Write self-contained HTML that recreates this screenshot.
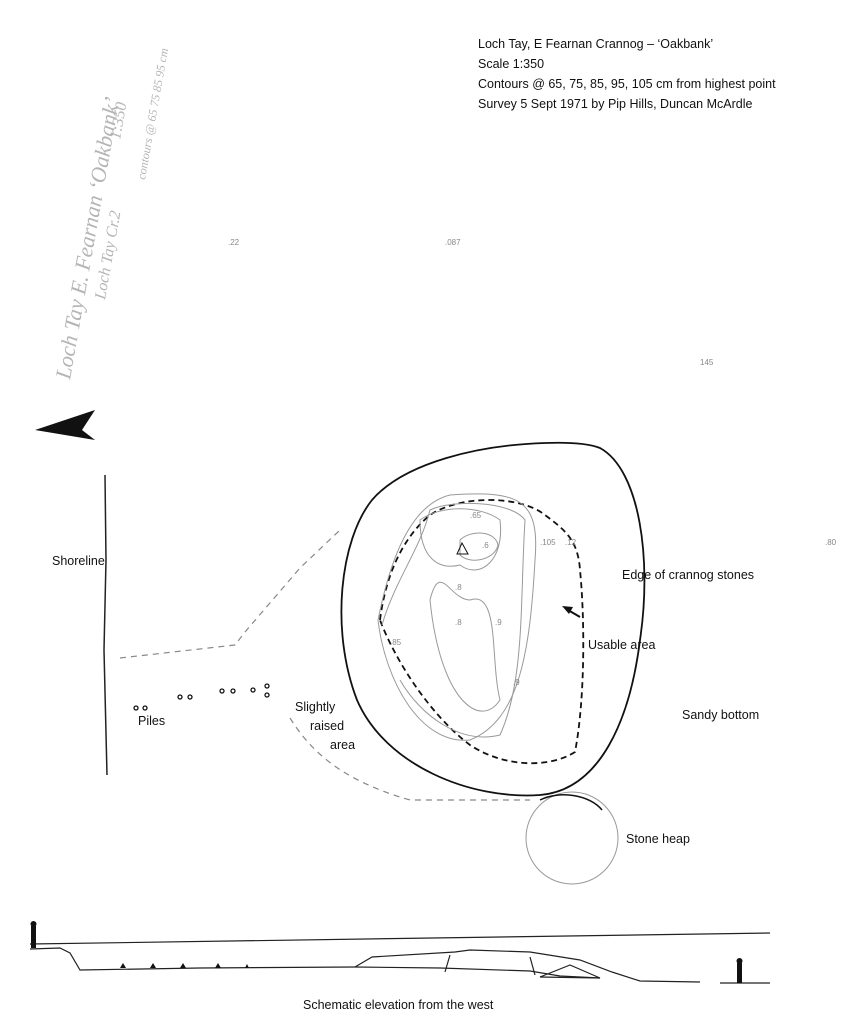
<!DOCTYPE html>
<html><head><meta charset="utf-8"><style>
html,body{margin:0;padding:0;background:#fff}
svg{display:block}
.t{font-family:"Liberation Sans",sans-serif;font-size:12.5px;fill:#111}
.h{font-family:"Liberation Sans",sans-serif;font-size:8px;fill:#888}
</style></head><body>
<svg width="850" height="1024" viewBox="0 0 850 1024" xmlns="http://www.w3.org/2000/svg">
<rect width="850" height="1024" fill="#fff"/>
<text class="t" x="478" y="48">Loch Tay, E Fearnan Crannog – ‘Oakbank’</text>
<text class="t" x="478" y="68">Scale 1:350</text>
<text class="t" x="478" y="88">Contours @ 65, 75, 85, 95, 105 cm from highest point</text>
<text class="t" x="478" y="108">Survey 5 Sept 1971 by Pip Hills, Duncan McArdle</text>
<g fill="#b5b5b5" font-family="Liberation Serif,serif" font-size="22" font-style="italic">
<text transform="translate(70,380) rotate(-80)">Loch Tay  E. Fearnan ‘Oakbank’</text>
<text transform="translate(105,300) rotate(-80)" font-size="16">Loch Tay Cr.2</text>
<text transform="translate(120,140) rotate(-80)" font-size="16">1:350</text>
<text transform="translate(145,180) rotate(-80)" font-size="12">contours @ 65 75 85 95 cm</text>
</g>
<polygon points="35,430 95,410 82,430 95,440" fill="#111"/>
<path d="M105,475 L106,560 L104,650 L107,775" stroke="#222" stroke-width="1.5" fill="none"/>
<text class="t" x="52" y="565">Shoreline</text>
<path d="M600,448 C640,470 652,560 640,640 C630,720 600,790 540,795 C470,800 385,765 357,700 C330,630 340,540 372,500 C405,462 480,445 545,443 C572,442 590,444 600,448 Z" stroke="#111" stroke-width="1.8" fill="none"/>
<path d="M380,620 C385,580 400,540 430,515 C460,495 520,495 545,515 C565,530 578,540 580,570 C585,620 585,700 575,752 C550,768 505,768 470,745 C430,715 395,660 380,620 Z" stroke="#111" stroke-width="1.8" stroke-dasharray="6,4" fill="none"/>
<g stroke="#999" stroke-width="1" fill="none">
<path d="M378,620 C390,560 410,505 450,495 C520,490 540,500 535,560 C530,650 520,720 470,740 C420,745 385,680 378,620 Z"/>
<path d="M382,625 C395,580 420,550 430,510 C450,500 510,500 525,520 C520,600 525,680 500,735 C460,745 420,715 400,680"/>
<path d="M420,520 C440,505 480,505 500,520 C505,560 480,580 460,565 C440,570 420,560 420,520 Z"/>
<path d="M460,540 C470,530 495,530 498,545 C495,560 470,565 460,555 Z"/>
<path d="M430,600 C440,560 450,600 470,600 C500,590 490,660 500,700 C480,730 440,700 430,600 Z"/>
</g>
<polygon points="462,543 457,554 468,554" stroke="#111" fill="none"/>
<circle cx="572" cy="838" r="46" stroke="#999" stroke-width="1" fill="none"/>
<path d="M540,800 C560,790 590,795 602,810" stroke="#111" stroke-width="1.5" fill="none"/>
<text class="t" x="626" y="843">Stone heap</text>
<path d="M120,658 L235,645 L245,632 L300,568 L340,530" stroke="#888" stroke-width="1.2" stroke-dasharray="6,5" fill="none"/>
<path d="M290,718 C310,750 340,780 410,800 L530,800" stroke="#888" stroke-width="1.2" stroke-dasharray="6,5" fill="none"/>
<text class="t" x="622" y="579">Edge of crannog stones</text>
<path d="M580,617 L568,610" stroke="#111" stroke-width="2"/>
<polygon points="562,606 573,607 569,614" fill="#111"/>
<text class="t" x="588" y="649">Usable area</text>
<text class="t" x="682" y="719">Sandy bottom</text>
<text class="t" x="295" y="711">Slightly</text>
<text class="t" x="310" y="730">raised</text>
<text class="t" x="330" y="749">area</text>
<text class="t" x="138" y="725">Piles</text>
<g fill="none" stroke="#111" stroke-width="1.3">
<circle cx="136" cy="708" r="2"/><circle cx="145" cy="708" r="2"/>
<circle cx="180" cy="697" r="2"/><circle cx="190" cy="697" r="2"/>
<circle cx="222" cy="691" r="2"/><circle cx="233" cy="691" r="2"/>
<circle cx="253" cy="690" r="2"/><circle cx="267" cy="686" r="2"/><circle cx="267" cy="695" r="2"/>
</g>
<g class="h"><text x="390" y="645">.85</text><text x="455" y="625">.8</text><text x="495" y="625">.9</text><text x="513" y="685">.9</text><text x="455" y="590">.8</text><text x="540" y="545">.105</text><text x="565" y="545">.12</text><text x="470" y="518">.65</text><text x="482" y="548">.6</text><text x="825" y="545">.80</text><text x="700" y="365">145</text><text x="228" y="245">.22</text><text x="445" y="245">.087</text></g>
<g stroke="#222" fill="none" stroke-width="1.2">
<path d="M30,944 L770,933"/>
<path d="M30,949 L60,948 L70,953 L80,970 L200,968 L355,967"/>
<path d="M355,967 L372,957 L455,952 L470,950 L530,952 L580,960 L612,972 L640,981 L700,982"/>
<path d="M355,967 L440,968 L530,971 L560,976 L600,978"/>
<path d="M450,955 L445,972"/>
<path d="M530,957 L535,975"/>
<path d="M540,977 L570,965 L600,978 Z"/>
<path d="M720,983 L770,983"/>
</g>
<g fill="#111"><rect x="31" y="926" width="5" height="22"/><circle cx="33.5" cy="924" r="3"/>
<rect x="737" y="963" width="5" height="20"/><circle cx="739.5" cy="961" r="3"/>
<path d="M120,968 l3,-5 l3,5z M150,968 l3,-5 l3,5z M180,968 l3,-5 l3,5z M215,968 l3,-5 l3,5z M245,968 l2,-4 l2,4z"/></g>
<text class="t" x="303" y="1009">Schematic elevation from the west</text>
</svg>
</body></html>
